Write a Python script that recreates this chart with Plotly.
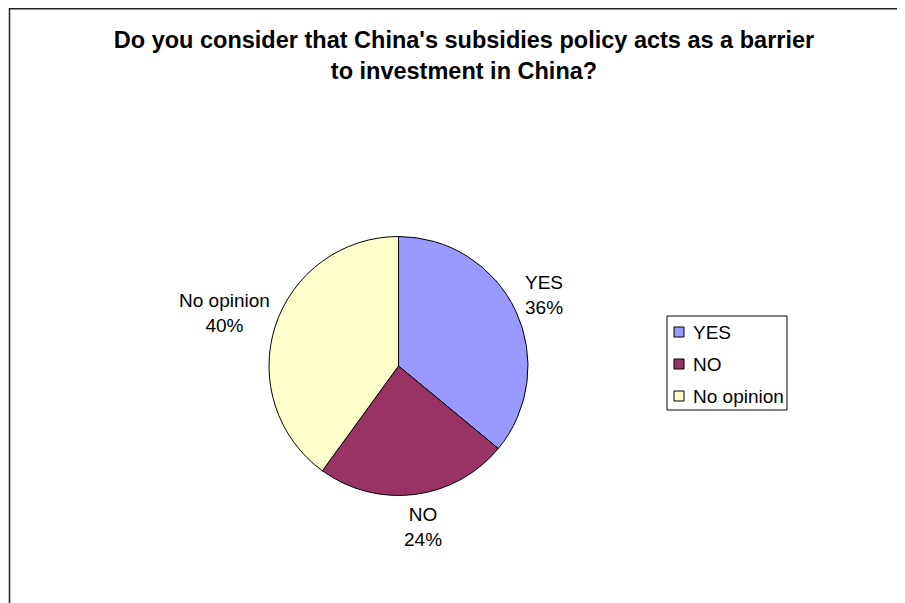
import plotly.graph_objects as go

# ---- data ----
labels = ["YES", "NO", "No opinion"]
values = [36, 24, 40]
colors = ["#9999FF", "#993366", "#FFFFCC"]
title_lines = ["Do you consider that China's subsidies policy acts as a barrier",
               "to investment in China?"]

# figure fills the window minus the page's default 8px body margin
W, H = 897, 595
OFF = 8  # page -> figure offset


def px(x):
    """page-pixel x -> paper coordinate"""
    return (x - OFF) / W


def py(y):
    """page-pixel y -> paper coordinate"""
    return 1 - (y - OFF) / H


FONT = "Liberation Sans, Arial, sans-serif"

# pie geometry (page pixels)
cx, cy, r = 398.5, 366, 129.5

fig = go.Figure(go.Pie(
    labels=labels,
    values=values,
    sort=False,
    direction="clockwise",
    rotation=0,
    marker=dict(colors=colors, line=dict(color="black", width=1)),
    textinfo="none",
    hoverinfo="label+percent",
    showlegend=False,
    domain=dict(x=[px(cx - r), px(cx + r)], y=[py(cy + r), py(cy - r)]),
))

# data labels (text anchor positions, page pixels)
label_pos = {"YES": (544, 295), "NO": (423, 527), "No opinion": (224, 313)}
total = sum(values)
for lab, val in zip(labels, values):
    x, y = label_pos[lab]
    fig.add_annotation(
        x=px(x), y=py(y), xref="paper", yref="paper",
        text=f"{lab}<br>{round(val / total * 100)}%",
        showarrow=False, xanchor="center", yanchor="middle",
        font=dict(family=FONT, size=19, color="black"),
    )

# legend (box + swatches + texts), built from the data lists
lg_x0, lg_x1, lg_y0, lg_y1 = 667, 787, 316, 410
lg_first, lg_step = 332, 32
fig.add_shape(type="rect", xref="paper", yref="paper",
              x0=px(lg_x0), x1=px(lg_x1), y0=py(lg_y1), y1=py(lg_y0),
              line=dict(color="black", width=1), fillcolor="white")
for i, (lab, col) in enumerate(zip(labels, colors)):
    yc = lg_first + i * lg_step
    fig.add_shape(type="rect", xref="paper", yref="paper",
                  x0=px(674), x1=px(684), y0=py(yc + 5), y1=py(yc - 5),
                  line=dict(color="black", width=1), fillcolor=col)
    fig.add_annotation(
        x=px(691), y=py(yc), xref="paper", yref="paper",
        text=lab, showarrow=False, xanchor="left", yanchor="middle",
        font=dict(family=FONT, size=19, color="black"),
    )

# outer frame
fig.add_shape(type="rect", xref="paper", yref="paper",
              x0=px(9.5), x1=px(920), y0=py(620), y1=py(8.75),
              line=dict(color="#222222", width=1.5), fillcolor="rgba(0,0,0,0)")

fig.update_layout(
    width=W, height=H,
    margin=dict(l=0, r=0, t=0, b=0),
    paper_bgcolor="white", plot_bgcolor="white",
    title=dict(
        text="<br>".join(title_lines),
        x=px(464), xanchor="center",
        y=py(48), yanchor="top",
        font=dict(family=FONT, size=23.5, color="black", weight="bold"),
    ),
    showlegend=False,
)

fig.write_html("out.html")
